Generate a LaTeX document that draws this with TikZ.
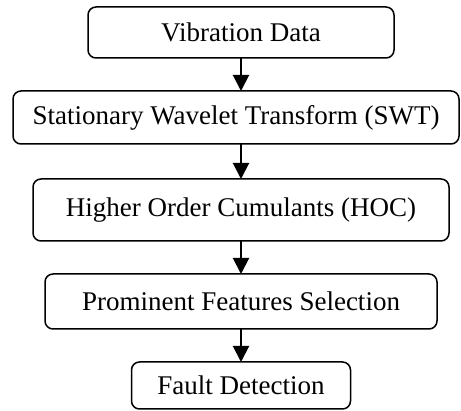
\documentclass[tikz,border=0pt]{standalone}
\usepackage{fontspec}
\setmainfont{Liberation Serif}
\usetikzlibrary{positioning,arrows.meta}

\begin{document}
\begin{tikzpicture}
       \tikzset{stage/.style={rectangle, rounded corners=8pt, draw, line width=1.5pt,
                inner sep=0pt, outer sep=0pt, font=\fontsize{27}{30}\selectfont}}

       \tikzset{flow/.style={line width=2pt, -{Triangle[width=16pt,length=16pt]}}}

        \useasboundingbox (0,0) rectangle (461pt,-411pt);

        \node[stage, minimum width=306pt, minimum height=51pt] (vib) at (241pt,-32.5pt) {Vibration Data};
        \node[stage, minimum width=446pt, minimum height=53pt, below=33pt of vib, xshift=-5pt] (swt) {Stationary Wavelet Transform (SWT)};
        \node[stage, minimum width=416pt, minimum height=62pt, below=35pt of swt, xshift=5pt] (hoc) {Higher Order Cumulants (HOC)};
        \node[stage, minimum width=392pt, minimum height=55pt, below=33pt of hoc] (pfs) {Prominent Features Selection};
        \node[stage, minimum width=219pt, minimum height=47pt, below=33pt of pfs] (fd) {Fault Detection};

        \draw[flow] (vib.south) -- (vib.south |- swt.north);
        \draw[flow] (hoc.north |- swt.south) -- (hoc.north);
        \draw[flow] (hoc.south) -- (pfs.north);
        \draw[flow] (pfs.south) -- (fd.north);

   \end{tikzpicture}
\end{document}
